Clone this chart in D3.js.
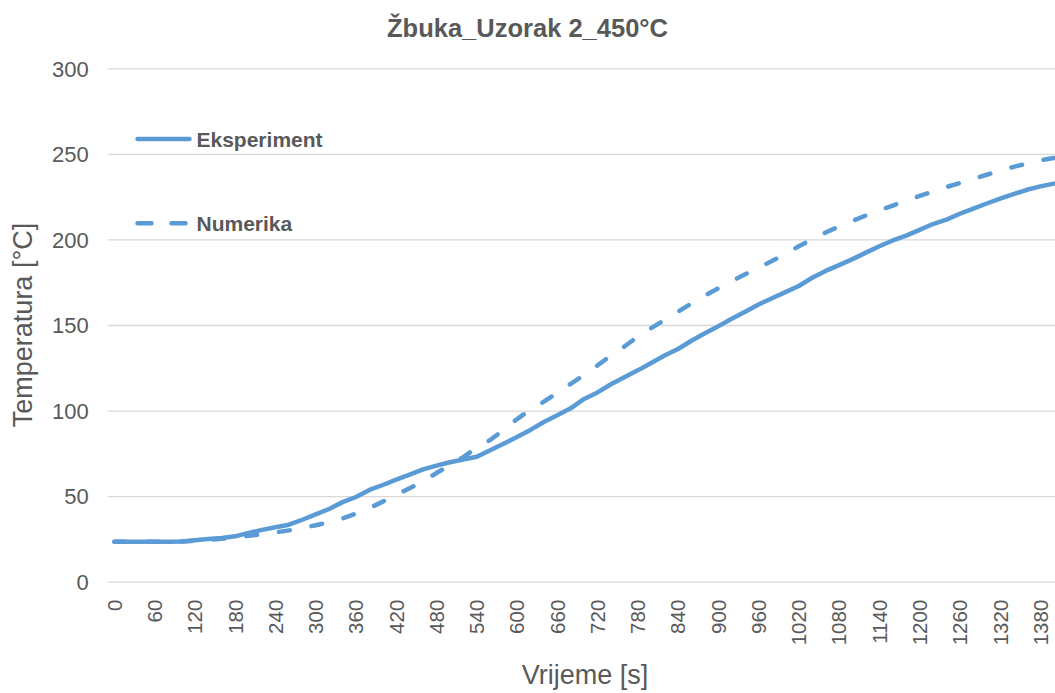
<!DOCTYPE html>
<html>
<head>
<meta charset="utf-8">
<script src="https://cdn.jsdelivr.net/npm/d3@7/dist/d3.min.js"></script>
<style>
  html, body { margin: 0; padding: 0; background: #ffffff; }
  svg { display: block; }
  text { font-family: "Liberation Sans", Arial, sans-serif; fill: #595959; }
</style>
</head>
<body>
<svg id="chart" width="1055" height="693"></svg>
<script>
// Time samples in seconds (category axis)
const times = [
  0, 20, 40, 60, 80, 100, 120, 140, 160, 180,
  200, 220, 240, 260, 280, 300, 320, 340, 360, 380,
  400, 420, 440, 460, 480, 500, 520, 540, 560, 580,
  600, 620, 640, 660, 680, 700, 720, 740, 760, 780,
  800, 820, 840, 860, 880, 900, 920, 940, 960, 980,
  1000, 1020, 1040, 1060, 1080, 1100, 1120, 1140, 1160, 1180,
  1200, 1220, 1240, 1260, 1280, 1300, 1320, 1340, 1360, 1380,
  1400
];

// Measured temperature [°C]
const eksperiment = [
  23.4, 23.4, 23.4, 23.4, 23.4, 23.5, 24.2, 25.0, 25.6, 26.5,
  28.5, 30.3, 31.8, 33.3, 36.2, 39.3, 42.5, 46.5, 49.5, 53.6,
  56.5, 59.6, 62.6, 65.6, 67.8, 69.8, 71.4, 73.0, 76.8, 80.6,
  84.5, 88.7, 93.3, 97.2, 101.3, 106.8, 110.6, 115.4, 119.5, 123.5,
  127.8, 132.2, 136.0, 140.8, 145.2, 149.3, 153.6, 157.8, 162.0, 165.6,
  169.2, 172.8, 177.6, 181.6, 185.0, 188.5, 192.3, 196.0, 199.4, 202.2,
  205.6, 209.0, 211.6, 215.0, 218.0, 221.0, 223.8, 226.5, 229.0, 231.0,
  232.6
];

// Simulated temperature [°C]
const numerika = [
  23.4, 23.4, 23.4, 23.4, 23.4, 23.5, 23.8, 24.4, 25.1, 25.9,
  26.8, 27.8, 28.8, 30.0, 31.4, 33.0, 34.8, 37.0, 39.8, 43.0,
  46.8, 50.6, 54.6, 58.6, 63.5, 68.2, 72.8, 78.3, 82.8, 88.6,
  95.0, 100.6, 105.2, 110.4, 115.6, 120.8, 126.4, 132.2, 137.4, 143.2,
  148.2, 153.0, 157.8, 162.6, 167.2, 171.4, 175.6, 179.6, 183.4, 187.4,
  191.6, 196.0, 200.2, 204.0, 207.6, 210.8, 214.0, 217.0, 219.8, 222.6,
  225.4, 228.0, 230.6, 233.0, 235.4, 237.8, 240.2, 242.4, 244.4, 246.2,
  247.6
];

const xTickLabels = [0, 60, 120, 180, 240, 300, 360, 420, 480, 540, 600, 660,
  720, 780, 840, 900, 960, 1020, 1080, 1140, 1200, 1260, 1320, 1380];
const yTicks = [0, 50, 100, 150, 200, 250, 300];

const titleText = "Žbuka_Uzorak 2_450°C";
const xTitle = "Vrijeme [s]";
const yTitle = "Temperatura [°C]";
const seriesNames = ["Eksperiment", "Numerika"];

const blue = "#5B9BD5";
const gridColor = "#D9D9D9";
const dashPattern = "11,22";

const plot = { left: 107.7, right: 1060.5, top: 68.3, bottom: 581.7 };

const svg = d3.select("#chart");

const x = d3.scaleBand()
  .domain(times)
  .range([plot.left, plot.right])
  .paddingInner(0)
  .paddingOuter(0);
const xc = t => x(t) + x.bandwidth() / 2;

const y = d3.scaleLinear()
  .domain([0, 300])
  .range([plot.bottom, plot.top]);

// Horizontal gridlines and value labels
const yAxis = d3.axisLeft(y)
  .tickValues(yTicks)
  .tickSize(-(plot.right - plot.left))
  .tickPadding(19);
const gy = svg.append("g")
  .attr("transform", `translate(${plot.left},0)`)
  .call(yAxis);
gy.select(".domain").remove();
gy.selectAll(".tick line").attr("stroke", gridColor).attr("stroke-width", 1.3);
gy.selectAll(".tick text")
  .style("font-size", "22px")
  .attr("fill", "#595959")
  .attr("dy", "0.35em");

// Category labels, rotated
const xAxis = d3.axisBottom(x)
  .tickValues(xTickLabels)
  .tickSize(0)
  .tickPadding(0);
const gx = svg.append("g")
  .attr("transform", `translate(0,${plot.bottom})`)
  .call(xAxis);
gx.select(".domain").remove();
gx.selectAll(".tick text")
  .style("font-size", "20.5px")
  .attr("fill", "#595959")
  .attr("text-anchor", "end")
  .attr("transform", "translate(0,18) rotate(-90)")
  .attr("x", 0)
  .attr("y", 0)
  .attr("dy", "0.36em");

// Series lines
const line = d3.line()
  .x((d, i) => xc(times[i]))
  .y(d => y(d));

svg.append("path")
  .datum(numerika)
  .attr("d", line)
  .attr("fill", "none")
  .attr("stroke", blue)
  .attr("stroke-width", 4.5)
  .attr("stroke-linecap", "round")
  .attr("stroke-linejoin", "round")
  .attr("stroke-dasharray", dashPattern);

svg.append("path")
  .datum(eksperiment)
  .attr("d", line)
  .attr("fill", "none")
  .attr("stroke", blue)
  .attr("stroke-width", 4.5)
  .attr("stroke-linecap", "round")
  .attr("stroke-linejoin", "round");

// Title
svg.append("text")
  .attr("x", 527.5)
  .attr("y", 36.5)
  .attr("text-anchor", "middle")
  .style("font-size", "25.5px")
  .style("font-weight", "bold")
  .text(titleText);

// Axis titles
svg.append("text")
  .attr("x", 585)
  .attr("y", 684)
  .attr("text-anchor", "middle")
  .style("font-size", "27px")
  .text(xTitle);

svg.append("text")
  .attr("transform", "translate(32,325) rotate(-90)")
  .attr("text-anchor", "middle")
  .style("font-size", "27px")
  .text(yTitle);

// Legend
const legend = svg.append("g");
const legendRows = [
  { name: seriesNames[0], y: 139, dash: null },
  { name: seriesNames[1], y: 223.3, dash: "14,20" }
];
legendRows.forEach(r => {
  legend.append("line")
    .attr("x1", 137.5).attr("x2", 189.5)
    .attr("y1", r.y).attr("y2", r.y)
    .attr("stroke", blue)
    .attr("stroke-width", 4.5)
    .attr("stroke-linecap", "round")
    .attr("stroke-dasharray", r.dash);
  legend.append("text")
    .attr("x", 196.5)
    .attr("y", r.y)
    .attr("dy", "0.36em")
    .style("font-size", "21px")
    .style("font-weight", "bold")
    .text(r.name);
});
</script>
</body>
</html>
